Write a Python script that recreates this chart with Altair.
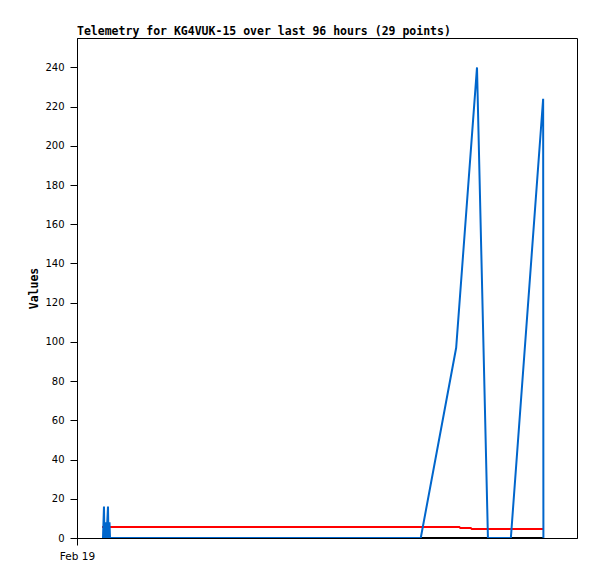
import altair as alt
import pandas as pd

# hours since start of window (Feb 19 00:00)
blue_hours = [4.99, 5.18, 5.28, 5.47, 5.66, 5.95, 6.05, 6.24, 6.34, 66.0, 72.8, 76.8, 78.9, 83.3, 89.5, 89.55]
blue_vals = [0, 16, 0, 8, 0, 16, 0, 8, 0, 0, 97, 240, 0, 0, 224, 0]

red_hours = [4.8, 73.4, 73.6, 75.6, 75.8, 89.5]
red_vals = [5.6, 5.6, 5.1, 5.1, 4.6, 4.6]

black_hours = [4.8, 89.5]
black_vals = [0, 0]

series_names = ["black", "red", "blue"]
series_colors = ["#000000", "#ff0000", "#0066cc"]

rows = []
for name, hs, vals in zip(series_names, [black_hours, red_hours, blue_hours], [black_vals, red_vals, blue_vals]):
    for i, (h, v) in enumerate(zip(hs, vals)):
        rows.append({"series": name, "hours": h, "value": v, "order": i})
df = pd.DataFrame(rows)

chart = (
    alt.Chart(df)
    .mark_line(strokeWidth=2, clip=True)
    .encode(
        x=alt.X(
            "hours:Q",
            scale=alt.Scale(domain=[0, 96], nice=False, zero=False),
            axis=alt.Axis(
                values=[0],
                labelExpr="'Feb 19'",
                labelFlush=False,
                title=None,
                grid=False,
                tickSize=7,
                labelPadding=6,
                labelFont="DejaVu Sans",
                labelFontSize=10.5,
                labelColor="#000",
                tickColor="#000",
                domainColor="#000",
            ),
        ),
        y=alt.Y(
            "value:Q",
            scale=alt.Scale(domain=[0, 255], nice=False),
            axis=alt.Axis(
                values=list(range(0, 241, 20)),
                title="Values",
                titleFont="DejaVu Sans Mono",
                titleFontSize=11.5,
                titleFontWeight="bold",
                titleColor="#000",
                titlePadding=5,
                grid=False,
                tickSize=7,
                labelPadding=6,
                labelFont="DejaVu Sans",
                labelFontSize=10,
                labelColor="#000",
                tickColor="#000",
                domainColor="#000",
            ),
        ),
        color=alt.Color(
            "series:N",
            scale=alt.Scale(domain=series_names, range=series_colors),
            legend=None,
        ),
        order="order:Q",
        detail="series:N",
    )
    .properties(
        width=500,
        height=500,
        title=alt.TitleParams(
            "Telemetry for KG4VUK-15 over last 96 hours (29 points)",
            anchor="start",
            frame="group",
            font="DejaVu Sans Mono",
            fontSize=11.5,
            fontWeight="bold",
            color="#000",
            offset=1,
        ),
        autosize=alt.AutoSizeParams(type="none"),
        padding={"left": 69, "top": 30, "right": 12, "bottom": 33},
    )
    .configure_view(stroke="#000", strokeWidth=1)
)

chart.save("out.html", embed_options={"renderer": "svg", "actions": False})
